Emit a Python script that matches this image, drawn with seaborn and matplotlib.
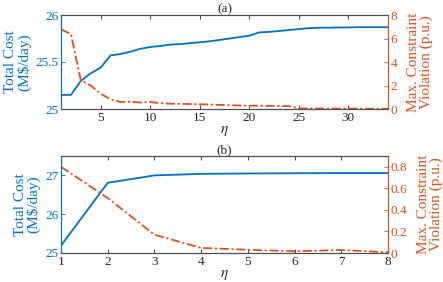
import matplotlib
matplotlib.use("Agg")
import matplotlib.pyplot as plt
import seaborn as sns
import pandas as pd
import numpy as np

# ---- data ----
eta_a = list(range(1, 35))
cost_a = [25.15, 25.15, 25.30, 25.38, 25.44, 25.57, 25.585, 25.61, 25.64, 25.66,
          25.67, 25.685, 25.69, 25.70, 25.71, 25.72, 25.735, 25.75, 25.765, 25.78,
          25.815, 25.82, 25.83, 25.84, 25.85, 25.86, 25.865, 25.865, 25.867, 25.868,
          25.87, 25.87, 25.87, 25.87]
viol_a = [6.78, 6.38, 2.45, 2.0, 1.3, 0.82, 0.6, 0.62, 0.55, 0.6,
          0.5, 0.45, 0.44, 0.42, 0.4, 0.38, 0.35, 0.32, 0.3, 0.28,
          0.28, 0.27, 0.26, 0.24, 0.06, 0.04, 0.04, 0.03, 0.03, 0.03,
          0.03, 0.02, 0.02, 0.02]

eta_b = [1, 2, 3, 4, 5, 6, 7, 8]
cost_b = [25.19, 26.81, 27.00, 27.04, 27.05, 27.055, 27.06, 27.06]
viol_b = [0.80, 0.51, 0.17, 0.047, 0.03, 0.016, 0.028, 0.006]

titles = ["(a)", "(b)"]
left_label = "Total Cost\n(M\\$/day)"
right_label = "Max. Constraint\nViolation (p.u.)"

BLUE = "#0072BD"
ORANGE = "#D95319"
DARK = "#262626"

sns.set_style("ticks")
plt.rcParams["font.family"] = ["Liberation Serif", "DejaVu Serif"]
plt.rcParams["mathtext.fontset"] = "stix"
FS = 9.5
LFS = 11

fig = plt.figure(figsize=(4.43, 2.82), dpi=100)
ax_a = fig.add_axes([61/443, 1-109/282, 327/443, 94/282])
ax_b = fig.add_axes([61/443, 1-253/282, 327/443, 97/282])

configs = [
    (ax_a, eta_a, cost_a, viol_a, (1, 34), (25, 26), [25, 25.5, 26], ["25", "25.5", "26"],
     (0, 8), [0, 2, 4, 6, 8], [5, 10, 15, 20, 25, 30]),
    (ax_b, eta_b, cost_b, viol_b, (1, 8), (25, 27.5), [25, 26, 27], ["25", "26", "27"],
     (0, 0.9), [0, 0.2, 0.4, 0.6, 0.8], [1, 2, 3, 4, 5, 6, 7, 8]),
]

for i, (ax, x, c, v, xl, yl, yt, ytl, y2l, y2t, xt) in enumerate(configs):
    df = pd.DataFrame({"eta": x, "cost": c, "viol": v})
    sns.lineplot(data=df, x="eta", y="cost", ax=ax, color=BLUE, lw=1.3)
    ax2 = ax.twinx()
    sns.lineplot(data=df, x="eta", y="viol", ax=ax2, color=ORANGE, lw=1.3,
                 linestyle=(0, (5, 1.5, 1.2, 1.5)))
    ax.set_xlim(*xl)
    ax.set_ylim(*yl)
    ax2.set_ylim(*y2l)
    ax.set_xticks(xt)
    ax.set_xticklabels([str(t) for t in xt], fontsize=FS, color=DARK)
    ax.set_yticks(yt)
    ax.set_yticklabels(ytl, fontsize=FS, color=BLUE)
    ax2.set_yticks(y2t)
    ax2.set_yticklabels([("%g" % t) for t in y2t], fontsize=FS, color=ORANGE)
    ax.tick_params(axis="x", direction="in", top=True, length=3, width=0.6, colors=DARK, pad=2)
    ax.tick_params(axis="y", direction="in", length=3, width=0.6, colors=BLUE, pad=2)
    ax2.tick_params(axis="y", direction="in", length=3, width=0.6, colors=ORANGE, pad=2)
    for a in (ax, ax2):
        for s in a.spines.values():
            s.set_linewidth(0.8)
        a.spines["top"].set_color("#4d4d4d")
        a.spines["bottom"].set_color("#4d4d4d")
    ax.spines["left"].set_color(BLUE)
    ax2.spines["left"].set_color(BLUE)
    ax.spines["right"].set_color(ORANGE)
    ax2.spines["right"].set_color(ORANGE)
    ax.set_xlabel("$\\eta$", fontsize=LFS, color=DARK, labelpad=0)
    ax.set_ylabel(left_label, fontsize=LFS, color=BLUE, labelpad=3, linespacing=0.95)
    ax2.set_ylabel(right_label, fontsize=LFS, color=ORANGE, labelpad=7, linespacing=0.95)
    ax.set_title(titles[i], fontsize=FS, color=DARK, pad=1.5)

fig.savefig("out.png", dpi=100)
